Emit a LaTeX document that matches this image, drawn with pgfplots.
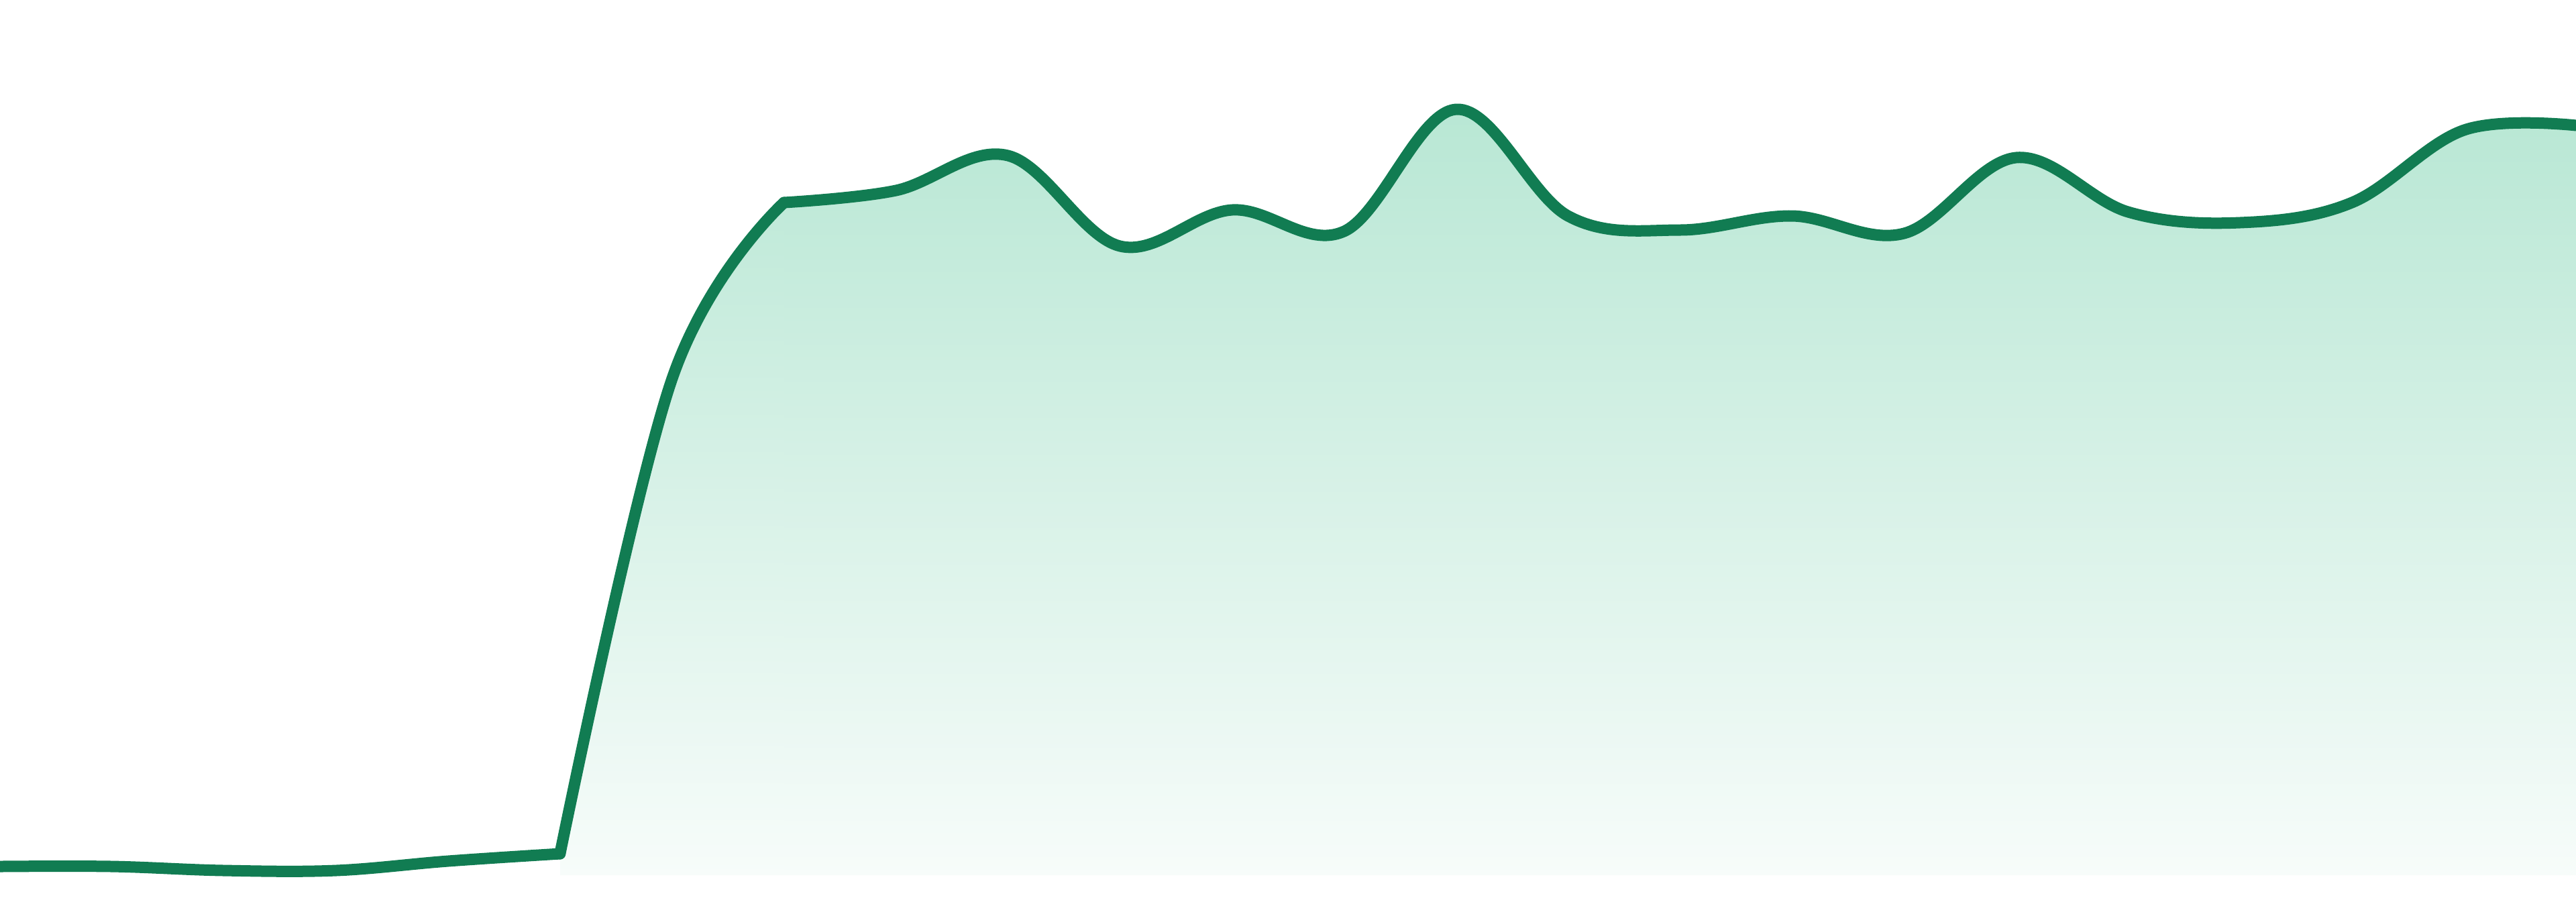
\documentclass[border=0pt]{standalone}
\usepackage{pgfplots}
\usepackage{pgfplotstable}
\pgfplotsset{compat=1.18}

\definecolor{linegreen}{RGB}{17,124,82}
\definecolor{filltop}{RGB}{184,231,212}
\definecolor{fillbot}{RGB}{247,252,250}
\colorlet{fillmid}{filltop!87!fillbot} % colour at the top of the jump

% index, value (baseline of the fill at 0)
% low run before the jump
\pgfplotstableread{
x y
0 13
1 13
2 7
3 7
4 21
5 32
}\low
% the jump
\pgfplotstableread{
x y
5 32
6 740
7 1003
}\jump
% the high run
\pgfplotstableread{
x y
7 1003
8 1021
9 1073
10 938
11 992
12 960
13 1142
14 983
15 962
16 983
17 957
18 1070
19 989
20 973
21 1003
22 1111
23 1118
}\high

\begin{document}
\begin{tikzpicture}
  \begin{axis}[
    width = 384pt,
    height = 134.4pt,
    scale only axis,
    hide axis,
    clip = true,
    xmin = 0,
    xmax = 23,
    ymin = -39,
    ymax = 1305,
    every axis plot/.append style = {smooth, tension=0.6},
    ]
    % area
    \addplot [draw=none, top color=fillmid, bottom color=fillbot]
      table [x=x, y=y] {\jump} \closedcycle;
    \addplot [draw=none, top color=filltop, bottom color=fillbot]
      table [x=x, y=y] {\high} \closedcycle;
    % line
    \addplot [linegreen, line width=1.7pt, line cap=round, line join=round]
      table [x=x, y=y] {\low};
    \addplot [linegreen, line width=1.7pt, line cap=round, line join=round]
      table [x=x, y=y] {\jump};
    \addplot [linegreen, line width=1.7pt, line cap=round, line join=round]
      table [x=x, y=y] {\high};
  \end{axis}
  \pgfresetboundingbox
  \path [use as bounding box] (current axis.south west) rectangle (current axis.north east);
\end{tikzpicture}
\end{document}
